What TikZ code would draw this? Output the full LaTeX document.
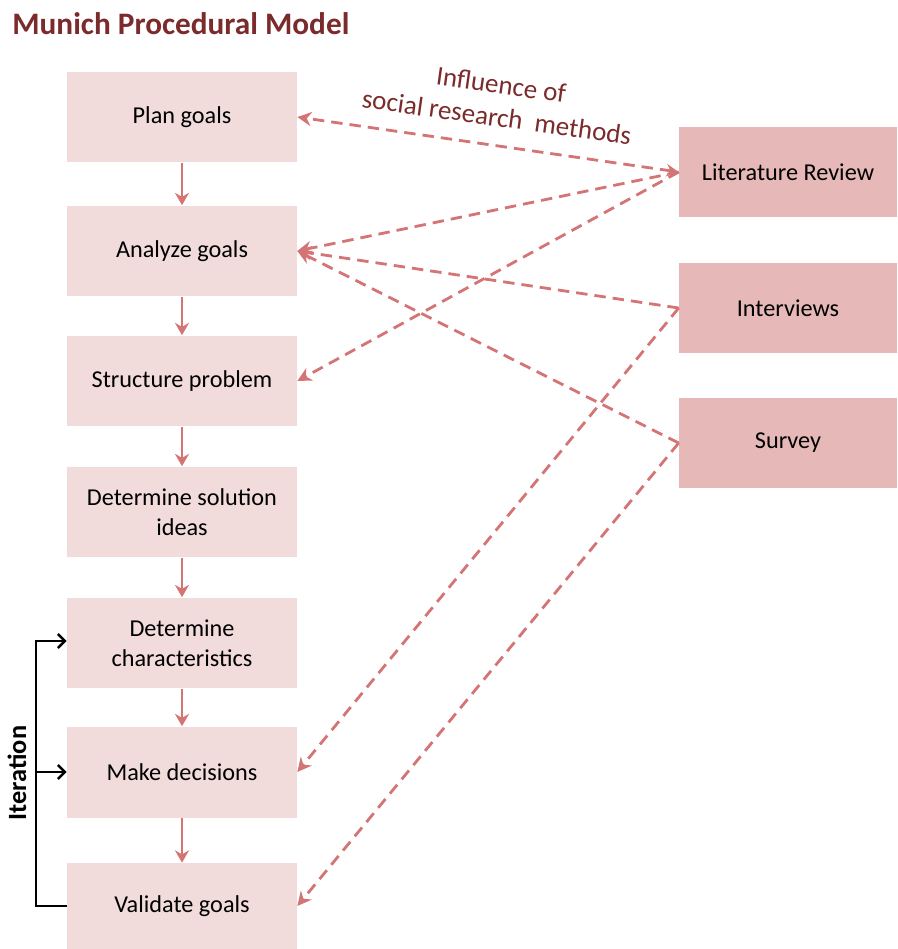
\documentclass[tikz,border=0pt]{standalone}
\usepackage{fontspec}
\setmainfont{Carlito}
\usetikzlibrary{arrows.meta, positioning}
\definecolor{C_STEP}{HTML}{F2DCDB}
\definecolor{C_METH}{HTML}{E6B9B8}
\definecolor{C_ARR} {HTML}{D47474}
\definecolor{C_HEAD}{HTML}{7B2B2B}
\tikzset{
  %% -- procedural step (left column) --
  MPM/stepbox/.style={
    fill=C_STEP, minimum width=4.6cm, minimum height=1.82cm,
    align=center, font=\fontsize{13.8}{17}\selectfont, inner sep=2pt
  },
  %% -- research method (right column) --
  MPM/method/.style={
    fill=C_METH, minimum width=4.36cm, minimum height=1.82cm,
    align=center, font=\fontsize{13.8}{17}\selectfont
  },
  %% -- step to step arrow --
  MPM/next/.style={-{Stealth[length=7pt, width=8pt]}, line width=1.6pt, color=C_ARR},
  %% -- influence arrow (dashed) --
  MPM/infl/.style={-{Stealth[length=8pt, width=8pt]}, line width=1.6pt, color=C_ARR,
    dash pattern=on 6.5pt off 4pt},
  %% -- iteration loop --
  MPM/loop/.style={line width=1.4pt, black},
  MPM/looparr/.style={MPM/loop, -{Straight Barb[length=4pt, width=8pt]}},
}
\begin{document}
\begin{tikzpicture}[x=0.02cm, y=-0.02cm]
\useasboundingbox (0,0) rectangle (897,949);

%% ── Title ────────────────────────────────────────────────────
\node[anchor=west, font=\fontsize{17.8}{20}\selectfont\bfseries, text=C_HEAD, inner sep=0pt]
  (title) at (12,24) {Munich Procedural Model};

%% ── Procedural steps ─────────────────────────────────────────
\node[MPM/stepbox] (plan)   at (182,117) {Plan goals};
\node[MPM/stepbox] (anal)   at (182,251) {Analyze goals};
\node[MPM/stepbox] (struc)  at (182,381) {Structure problem};
\node[MPM/stepbox] (ideas)  at (182,512) {Determine solution\\ideas};
\node[MPM/stepbox] (chars)  at (182,643) {Determine\\characteristics};
\node[MPM/stepbox] (decide) at (182,772) {Make decisions};
\node[MPM/stepbox, minimum height=1.72cm] (valid) at (182,906) {Validate goals};

%% ── Research methods ─────────────────────────────────────────
\node[MPM/method] (lit)   at (788,172) {Literature Review};
\node[MPM/method] (inter) at (788,308) {Interviews};
\node[MPM/method] (surv)  at (788,443) {Survey};

%% ── Step sequence ────────────────────────────────────────────
\draw[MPM/next] (plan)  -- (anal);
\draw[MPM/next] (anal)  -- (struc);
\draw[MPM/next] (struc) -- (ideas);
\draw[MPM/next] (ideas) -- (chars);
\draw[MPM/next] (chars) -- (decide);
\draw[MPM/next] (decide) -- (valid);

%% ── Influence of methods ─────────────────────────────────────
\draw[MPM/infl, {Stealth[length=7pt, width=7pt]}-{Stealth[length=8pt, width=8pt]}]
  (lit.west) -- (plan.east);
\draw[MPM/infl] (lit.west)   -- (anal.east);
\draw[MPM/infl] (lit.west)   -- (struc.east);
\draw[MPM/infl] (inter.west) -- (anal.east);
\draw[MPM/infl] (inter.west) -- (decide.east);
\draw[MPM/infl] (surv.west)  -- (anal.east);
\draw[MPM/infl] (surv.west)  -- (valid.east);

\node[text=C_HEAD, align=center, rotate=-8, font=\fontsize{15.4}{18.5}\selectfont]
  (inflabel) at (499,101) {Influence of\\social research\ \ methods};

%% ── Iteration loop ───────────────────────────────────────────
\coordinate (lpB) at (36,906);
\coordinate (lpT) at (36,641);
\coordinate (lpM) at (36,772);
\draw[MPM/looparr] (valid.west) -- (lpB) -- (lpT) -- (chars.west |- lpT);
\draw[MPM/looparr] (lpM) -- (decide.west);
\node[rotate=90, font=\fontsize{15}{17}\selectfont\bfseries] (iter) at (17,773) {Iteration};

\end{tikzpicture}
\end{document}
